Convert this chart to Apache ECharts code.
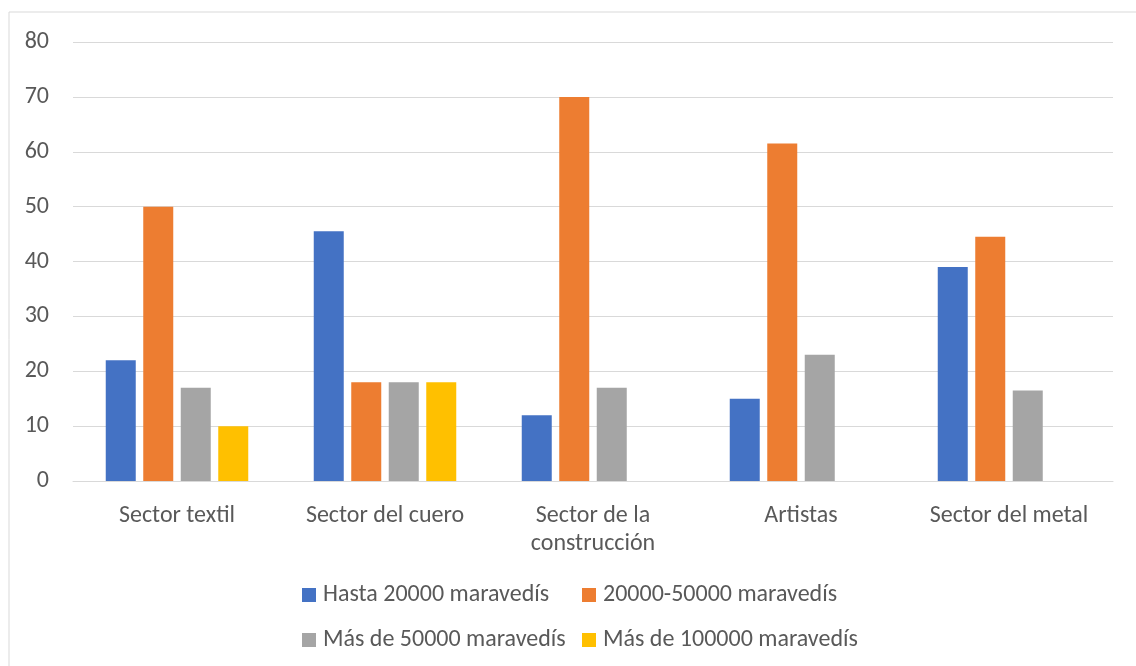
<!DOCTYPE html>
<html>
<head>
<meta charset="utf-8">
<script src="https://cdn.jsdelivr.net/npm/echarts@6/dist/echarts.min.js"></script>
<style>
  html, body { margin: 0; padding: 0; background: #fff; }
  #chart { width: 1136px; height: 666px; }
</style>
</head>
<body>
<div id="chart"></div>
<script>
const categories = ['Sector textil', 'Sector del cuero', 'Sector de la\nconstrucción', 'Artistas', 'Sector del metal'];
const hasta20000 = [22, 45.5, 12, 15, 39];
const de20000a50000 = [50, 18, 70, 61.5, 44.5];
const masDe50000 = [17, 18, 17, 23, 16.5];
const masDe100000 = [10, 18, null, null, null];
const seriesNames = ['Hasta 20000 maravedís', '20000-50000 maravedís', 'Más de 50000 maravedís', 'Más de 100000 maravedís'];
const colors = ['#4472c4', '#ed7d31', '#a5a5a5', '#ffc000'];

const font = 'Carlito, Lato, sans-serif';
const fontSize = 24;
const textColor = '#595959';

const chart = echarts.init(document.getElementById('chart'), null, { renderer: 'canvas' });

// una leyenda por elemento, para colocarlas en dos columnas como el original
const legendPos = [[302, 583], [582, 583], [302, 628], [582, 628]];
const legends = seriesNames.map((name, i) => ({
  data: [name],
  left: legendPos[i][0],
  top: legendPos[i][1],
  padding: 0,
  itemWidth: 14,
  itemHeight: 14,
  icon: 'rect',
  textStyle: { color: textColor, fontFamily: font, fontSize: fontSize, padding: [0, 0, 0, 2] }
}));

const seriesData = [hasta20000, de20000a50000, masDe50000, masDe100000];

chart.setOption({
  animation: false,
  color: colors,
  graphic: [{
    type: 'rect',
    shape: { x: 9, y: 12, width: 1140, height: 670 },
    style: { fill: 'none', stroke: '#d9d9d9', lineWidth: 1 }
  }],
  legend: legends,
  grid: { left: 73, right: 23, top: 42, bottom: 185 },
  xAxis: {
    type: 'category',
    data: categories,
    axisTick: { show: false },
    axisLine: { lineStyle: { color: '#d9d9d9' } },
    axisLabel: { color: textColor, fontFamily: font, fontSize: fontSize, margin: 21, lineHeight: 28, interval: 0 }
  },
  yAxis: {
    type: 'value',
    min: 0,
    max: 80,
    interval: 10,
    axisLine: { show: false },
    axisTick: { show: false },
    splitLine: { lineStyle: { color: '#d9d9d9' } },
    axisLabel: { color: textColor, fontFamily: font, fontSize: fontSize, margin: 24 }
  },
  series: seriesNames.map((name, i) => ({
    name: name,
    type: 'bar',
    data: seriesData[i],
    barWidth: 30,
    barGap: '25%',
    itemStyle: { color: colors[i] }
  }))
});
</script>
</body>
</html>
